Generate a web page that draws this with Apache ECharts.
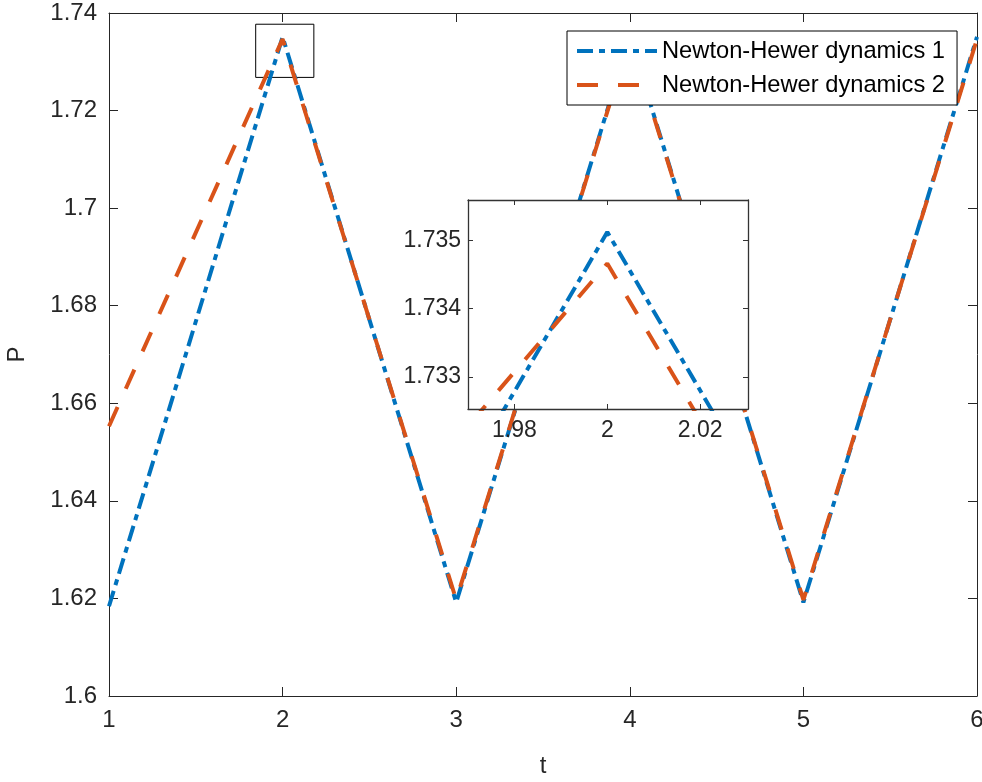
<!DOCTYPE html>
<html>
<head>
<meta charset="utf-8">
<script src="https://cdn.jsdelivr.net/npm/echarts@6/dist/echarts.min.js"></script>
<style>
	html, body { margin: 0; padding: 0; background: #fff; }
	#chart { width: 982px; height: 782px; }
</style>
</head>
<body>
<div id="chart"></div>
<script>
	// values
	var tValues = [1, 2, 3, 4, 5, 6];
	var dyn1 = [1.6184, 1.73512, 1.6192, 1.73512, 1.6192, 1.73512];
	var dyn2 = [1.6553, 1.73466, 1.6197, 1.73466, 1.6197, 1.73466];
	var seriesNames = ['Newton-Hewer dynamics 1', 'Newton-Hewer dynamics 2'];

	var insetXTicks = [1.98, 2, 2.02];
	var insetYTicks = [1.733, 1.734, 1.735];
	var insetXRange = [1.97, 2.0303];
	var insetYRange = [1.73253, 1.73559];
	// the small box drawn round the peak at t = 2
	var zoomBox = [[1.845, 1.7377], [2.18, 1.7268]];

	var BLUE = '#0072BD', ORANGE = '#D95319', INK = '#262626';
	var FONT = 'Liberation Sans, Arial, Helvetica, sans-serif';

	function pairs(xs, ys) {
		return xs.map(function(x, i) { return [x, ys[i]]; });
	}

	function lineSeries(name, data, color, dash, xi, yi, z) {
		return {
			name: name, type: 'line', data: data,
			xAxisIndex: xi, yAxisIndex: yi, z: z,
			symbol: 'none', smooth: false, clip: true,
			lineStyle: { color: color, width: 4, type: dash, cap: 'butt' },
			// no markers, so the legend should not draw a dot either
			itemStyle: { color: 'rgba(0,0,0,0)', opacity: 0 }
		};
	}

	function mainAxis(pos, extra) {
		var a = {
			type: 'value', position: pos, gridIndex: 0,
			axisLine: { show: true, onZero: false, lineStyle: { color: INK, width: 1 } },
			axisTick: { show: true, inside: true, length: 9, lineStyle: { color: INK, width: 1 } },
			axisLabel: { show: false },
			splitLine: { show: false }
		};
		for (var k in extra) a[k] = extra[k];
		return a;
	}

	function insetAxis(pos, extra) {
		var a = {
			type: 'value', position: pos, gridIndex: 1, z: 7,
			axisLine: { show: true, onZero: false, lineStyle: { color: '#333', width: 1.3 } },
			axisTick: { show: true, inside: true, length: 5, lineStyle: { color: '#333', width: 1 } },
			axisLabel: { show: false },
			splitLine: { show: false }
		};
		for (var k in extra) a[k] = extra[k];
		return a;
	}

	var chart = echarts.init(document.getElementById('chart'), null, { renderer: 'canvas' });

	var blueDash = [16, 6, 6, 6];
	var orangeDash = [21, 20];

	var option = {
		animation: false,
		backgroundColor: '#fff',
		textStyle: { fontFamily: FONT, color: INK },
		grid: [
			{ left: 109, right: 5, top: 13, bottom: 86, containLabel: false, outerBoundsMode: 'none' },
			{ left: 468, top: 200, width: 280, height: 209, show: true, backgroundColor: '#fff', borderWidth: 0, z: 5, outerBoundsMode: 'none' }
		],
		legend: {
			data: seriesNames,
			orient: 'vertical', left: 567, top: 31, z: 10,
			backgroundColor: '#fff', borderColor: '#000', borderWidth: 1,
			padding: [8, 12, 8, 8], itemGap: 10,
			itemWidth: 80, itemHeight: 14,
			itemStyle: { opacity: 0 },
			lineStyle: { width: 4 },
			textStyle: { fontFamily: FONT, fontSize: 23.7, color: '#000', lineHeight: 23 }
		},
		xAxis: [
			mainAxis('bottom', {
				min: 1, max: 6, interval: 1,
				name: 't', nameLocation: 'middle', nameGap: 58,
				nameTextStyle: { fontFamily: FONT, fontSize: 24, color: INK },
				axisLabel: { show: true, fontFamily: FONT, fontSize: 24, color: INK, margin: 12 }
			}),
			mainAxis('top', { min: 1, max: 6, interval: 1 }),
			insetAxis('bottom', {
				min: insetXRange[0], max: insetXRange[1],
				axisTick: { show: true, inside: true, length: 5, customValues: insetXTicks, lineStyle: { color: '#333', width: 1 } },
				axisLabel: { show: true, customValues: insetXTicks, fontFamily: FONT, fontSize: 23, color: INK, margin: 10 }
			}),
			insetAxis('top', {
				min: insetXRange[0], max: insetXRange[1],
				axisTick: { show: true, inside: true, length: 5, customValues: insetXTicks, lineStyle: { color: '#333', width: 1 } }
			})
		],
		yAxis: [
			mainAxis('left', {
				min: 1.6, max: 1.74, interval: 0.02,
				name: 'P', nameLocation: 'middle', nameGap: 80,
				nameTextStyle: { fontFamily: FONT, fontSize: 24, color: INK },
				axisLabel: { show: true, fontFamily: FONT, fontSize: 24, color: INK, margin: 12,
					formatter: function(v) { return String(+v.toFixed(2)); } }
			}),
			mainAxis('right', { min: 1.6, max: 1.74, interval: 0.02 }),
			insetAxis('left', {
				min: insetYRange[0], max: insetYRange[1],
				axisTick: { show: true, inside: true, length: 5, customValues: insetYTicks, lineStyle: { color: '#333', width: 1 } },
				axisLabel: { show: true, customValues: insetYTicks, fontFamily: FONT, fontSize: 23, color: INK, margin: 7,
					formatter: function(v) { return String(+v.toFixed(3)); } }
			}),
			insetAxis('right', {
				min: insetYRange[0], max: insetYRange[1],
				axisTick: { show: true, inside: true, length: 5, customValues: insetYTicks, lineStyle: { color: '#333', width: 1 } }
			})
		],
		series: [
			lineSeries(seriesNames[0], pairs(tValues, dyn1), BLUE, blueDash, 0, 0, 2),
			lineSeries(seriesNames[1], pairs(tValues, dyn2), ORANGE, orangeDash, 0, 0, 2),
			lineSeries(seriesNames[0], pairs(tValues, dyn1), BLUE, blueDash, 2, 2, 6),
			lineSeries(seriesNames[1], pairs(tValues, dyn2), ORANGE, orangeDash, 2, 2, 6),
			{
				name: 'box', type: 'line', data: [], xAxisIndex: 0, yAxisIndex: 0, z: 3,
				markArea: {
					silent: true,
					itemStyle: { color: 'rgba(0,0,0,0)', borderColor: '#000', borderWidth: 1 },
					data: [[
						{ coord: zoomBox[0] },
						{ coord: zoomBox[1] }
					]]
				}
			}
		]
	};

	chart.setOption(option);
</script>
</body>
</html>
